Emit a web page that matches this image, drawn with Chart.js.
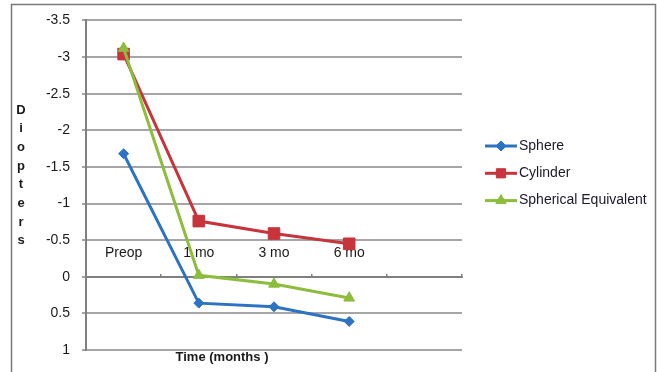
<!DOCTYPE html>
<html>
<head>
<meta charset="utf-8">
<script src="https://cdn.jsdelivr.net/npm/chart.js@4.4.1/dist/chart.umd.min.js"></script>
<style>
  html, body { margin: 0; padding: 0; background: #ffffff; }
  #wrap { width: 657px; height: 372px; position: relative; }
</style>
</head>
<body>
<div id="wrap"><canvas id="chart" width="657" height="372"></canvas></div>
<script>
// Refraction follow-up: mean values in diopters at each visit
const timepoints = ['Preop', '1 mo', '3 mo', '6 mo', ''];
const sphere = [-1.68, 0.36, 0.41, 0.61];
const cylinder = [-3.04, -0.76, -0.59, -0.45];
const sphericalEquivalent = [-3.12, -0.02, 0.10, 0.29];
const seriesNames = ['Sphere', 'Cylinder', 'Spherical Equivalent'];
const yMin = -3.5;
const yMax = 1;
const yStep = 0.5;
const yTitle = 'Diopters';
const xTitle = 'Time (months )';

const COLORS = ['#2d73c4', '#c8343c', '#8cbd3c'];
const FONT = 'Liberation Sans, Arial, sans-serif';

// Frame, stacked axis title, time axis title and the series key
const decorations = {
  id: 'decorations',
  beforeDraw(chart) {
    const ctx = chart.ctx;
    ctx.save();
    ctx.fillStyle = '#ffffff';
    ctx.fillRect(0, 0, chart.width, chart.height);
    ctx.restore();
  },
  afterDraw(chart) {
    const ctx = chart.ctx;
    const area = chart.chartArea;
    ctx.save();
    ctx.strokeStyle = '#7a7a7a';
    ctx.lineWidth = 1.5;
    ctx.beginPath();
    ctx.moveTo(11.5, chart.height + 2);
    ctx.lineTo(11.5, 4.5);
    ctx.lineTo(655.5, 4.5);
    ctx.lineTo(655.5, chart.height + 2);
    ctx.stroke();

    ctx.fillStyle = '#1a1a1a';
    ctx.font = 'bold 13px ' + FONT;
    ctx.textAlign = 'center';
    ctx.textBaseline = 'middle';
    yTitle.split('').forEach((ch, i) => {
      ctx.fillText(ch, 21, 110 + i * 18.7);
    });
    ctx.fillText(xTitle, area.left + 136, area.bottom + 7);

    // series key, built from the datasets themselves
    const keyLeft = area.right + 23;
    const keyTop = 146;
    const rowGap = 27.3;
    ctx.font = '14px ' + FONT;
    ctx.textAlign = 'left';
    chart.data.datasets.forEach((d, i) => {
      const y = keyTop + i * rowGap;
      ctx.strokeStyle = d.borderColor;
      ctx.lineWidth = 3;
      ctx.beginPath();
      ctx.moveTo(keyLeft, y);
      ctx.lineTo(keyLeft + 32, y);
      ctx.stroke();
      ctx.fillStyle = d.borderColor;
      ctx.strokeStyle = d.borderColor;
      ctx.lineWidth = 1;
      Chart.helpers.drawPoint(ctx, { pointStyle: d.pointStyle, radius: d.keyRadius, borderWidth: 1, rotation: 0 }, keyLeft + 16, y);
      ctx.fillStyle = '#1a1a2a';
      ctx.fillText(d.label, keyLeft + 34, y);
    });
    ctx.restore();
  }
};

function dataset(label, data, color, style, radius, keyRadius) {
  return {
    label, data,
    borderColor: color,
    backgroundColor: color,
    borderWidth: 3,
    pointStyle: style,
    pointRadius: radius,
    pointHoverRadius: radius,
    pointBackgroundColor: color,
    pointBorderColor: color,
    pointBorderWidth: 1,
    keyRadius,
    tension: 0,
    fill: false
  };
}

const ds = [
  dataset(seriesNames[0], sphere, COLORS[0], 'rectRot', 5, 5),
  dataset(seriesNames[1], cylinder, COLORS[1], 'rect', 8.2, 6.5),
  dataset(seriesNames[2], sphericalEquivalent, COLORS[2], 'triangle', 6.2, 6)
];
ds[0].order = 3; ds[1].order = 2; ds[2].order = 1;

new Chart(document.getElementById('chart'), {
  type: 'line',
  data: { labels: timepoints, datasets: ds },
  options: {
    responsive: false,
    animation: false,
    devicePixelRatio: 1,
    layout: { padding: { left: 0, top: 20, right: 195, bottom: 22 } },
    plugins: {
      tooltip: { enabled: false },
      legend: { display: false }
    },
    scales: {
      x: {
        type: 'category',
        position: { y: 0 },
        offset: true,
        grid: { display: true, drawOnChartArea: false, drawTicks: true, offset: true, tickLength: -4, color: '#808080', lineWidth: 1.5 },
        border: { display: true, color: '#7f7f7f', width: 2 },
        ticks: { autoSkip: false, maxRotation: 0, padding: -28.4, color: '#1a1a1a', font: { family: FONT, size: 14 } }
      },
      y: {
        reverse: true,
        min: yMin,
        max: yMax,
        afterFit(scale) { scale.width = 86; },
        ticks: {
          stepSize: yStep,
          padding: 12,
          color: '#1a1a1a',
          font: { family: FONT, size: 14 },
          callback: (v) => String(v)
        },
        grid: { color: '#a6a6a6', lineWidth: 2, tickLength: 4, drawTicks: true },
        border: { display: true, color: '#808080', width: 2 }
      }
    }
  },
  plugins: [decorations]
});
</script>
</body>
</html>
